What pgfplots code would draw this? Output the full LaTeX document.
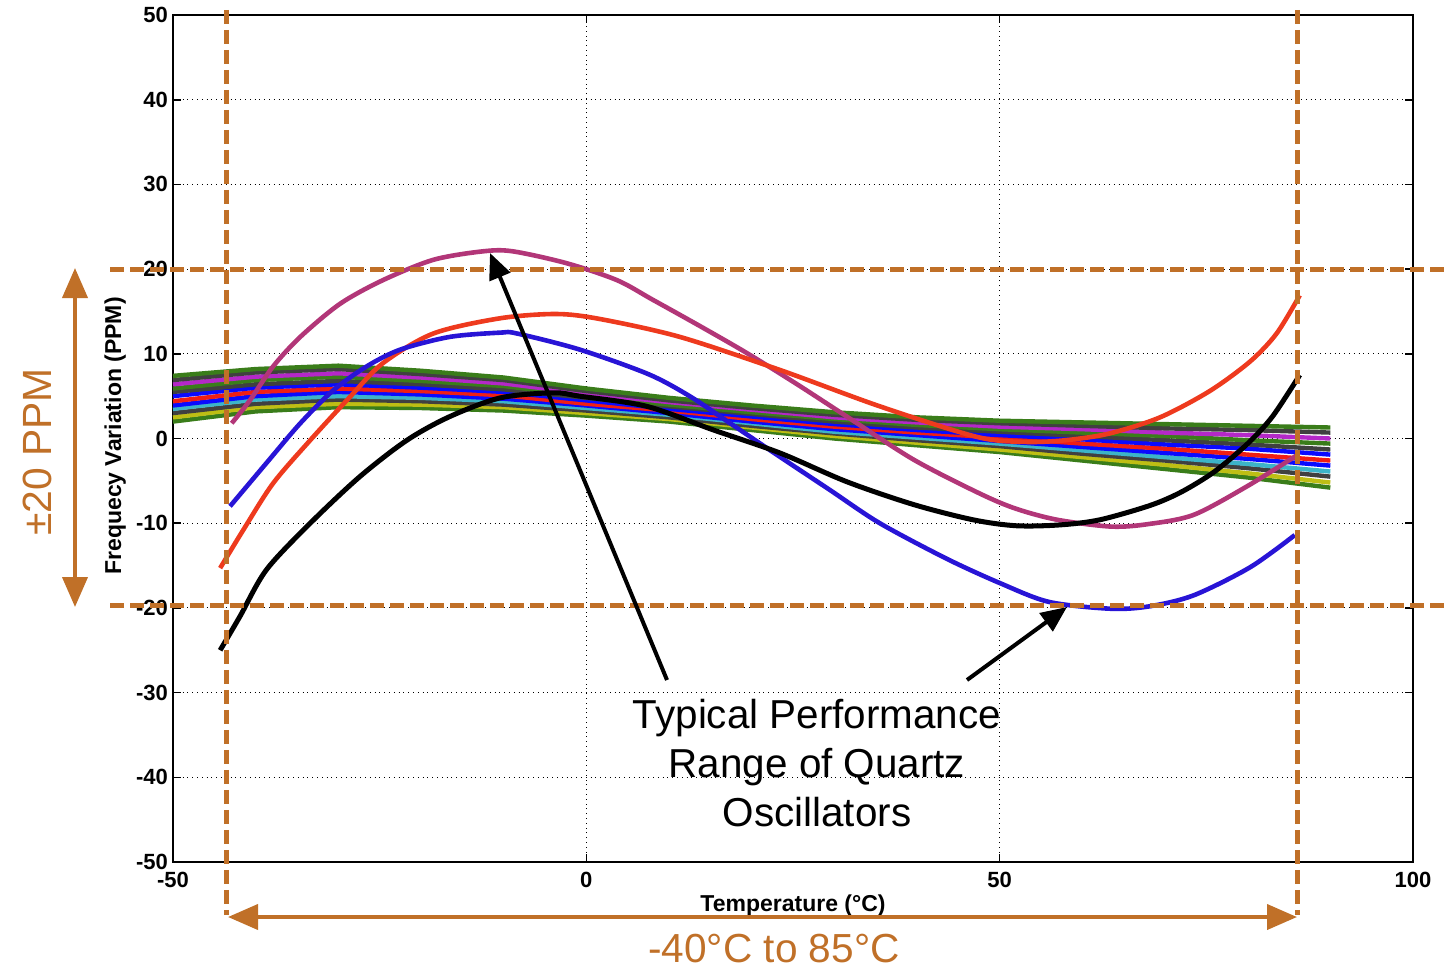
\documentclass[border=0pt]{standalone}
\usepackage{pgfplots}
\pgfplotsset{compat=1.18}
\usepackage{fontspec}
\setmainfont{Liberation Sans}
\usetikzlibrary{arrows.meta}
\definecolor{qorange}{RGB}{192,112,40}
\definecolor{qmag}{RGB}{178,54,120}
\definecolor{qred}{RGB}{238,58,30}
\definecolor{qblue}{RGB}{40,20,214}
\definecolor{bgreen}{RGB}{58,125,26}
\definecolor{bgray}{RGB}{64,64,64}
\definecolor{bblue}{RGB}{10,10,255}
\definecolor{bred}{RGB}{240,30,20}
\definecolor{byel}{RGB}{190,190,20}
\definecolor{bmag}{RGB}{180,40,200}
\definecolor{bcyan}{RGB}{60,180,200}
\pgfplotstableread{
T L0 L1 L2 L3 L4 L5 L6 L7 L8 L9 L10 L11
-50 2.0 2.5 3.0 3.5 3.9 4.4 5.0 5.5 5.9 6.4 6.9 7.4
-40 3.2 3.7 4.1 4.6 5.0 5.5 6.0 6.4 6.9 7.3 7.8 8.2
-30 3.7 4.1 4.6 5.0 5.5 5.9 6.4 6.8 7.3 7.7 8.2 8.6
-20 3.6 4.0 4.4 4.8 5.2 5.6 6.0 6.4 6.8 7.2 7.6 8.0
-10 3.3 3.7 4.0 4.4 4.7 5.1 5.5 5.8 6.2 6.5 6.9 7.2
0 2.7 3.0 3.3 3.6 3.9 4.1 4.5 4.8 5.0 5.3 5.6 5.9
10 2.0 2.3 2.5 2.8 3.0 3.3 3.5 3.8 4.0 4.3 4.5 4.8
20 1.0 1.3 1.5 1.8 2.0 2.3 2.6 2.9 3.1 3.4 3.6 3.9
30 0.0 0.3 0.6 0.8 1.1 1.4 1.7 2.0 2.3 2.5 2.8 3.1
40 -0.8 -0.5 -0.2 0.1 0.4 0.7 1.0 1.3 1.6 1.9 2.2 2.5
50 -1.6 -1.3 -0.9 -0.6 -0.3 0.1 0.4 0.8 1.1 1.4 1.8 2.1
60 -2.6 -2.2 -1.8 -1.4 -1.0 -0.6 -0.1 0.3 0.7 1.1 1.5 1.9
70 -3.6 -3.1 -2.6 -2.2 -1.7 -1.2 -0.7 -0.2 0.3 0.7 1.2 1.7
80 -4.6 -4.1 -3.5 -3.0 -2.4 -1.9 -1.2 -0.7 -0.2 0.4 1.0 1.5
90 -5.8 -5.2 -4.5 -3.9 -3.2 -2.6 -1.9 -1.3 -0.6 0.0 0.7 1.3
}\band
\begin{document}
\begin{tikzpicture}
\path[use as bounding box] (0,0) rectangle (722.5pt,-484.5pt);
\begin{axis}[
  at={(86.5pt,-431pt)}, anchor=south west,
  scale only axis, width=620pt, height=423.5pt,
  xmin=-50, xmax=100, ymin=-50, ymax=50,
  xtick={-50,0,50,100}, ytick={-50,-40,...,50},
  tick align=inside, major tick length=4pt,
  grid=major, major grid style={black, dotted, line width=0.5pt},
  axis line style={black, line width=0.8pt},
  tick style={black, line width=0.8pt},
  /pgf/number format/assume math mode=true,
  ticklabel style={font=\fontsize{11}{13}\selectfont\bfseries},
  xticklabel style={yshift=-1.5pt},
  yticklabel style={xshift=1pt},
  xlabel={Temperature (°C)},
  label style={font=\fontsize{11.5}{13}\selectfont\bfseries},
  xlabel style={at={(0.5,0)}, anchor=center, yshift=-22pt},
  clip=false,
  every axis plot/.append style={line width=2.2pt},
]
\addplot[bgreen] table[x=T,y=L0]{\band};
\addplot[byel] table[x=T,y=L1]{\band};
\addplot[bgray] table[x=T,y=L2]{\band};
\addplot[bcyan] table[x=T,y=L3]{\band};
\addplot[bblue] table[x=T,y=L4]{\band};
\addplot[bred] table[x=T,y=L5]{\band};
\addplot[bblue] table[x=T,y=L6]{\band};
\addplot[bgray] table[x=T,y=L7]{\band};
\addplot[bgreen] table[x=T,y=L8]{\band};
\addplot[bmag] table[x=T,y=L9]{\band};
\addplot[bgray] table[x=T,y=L10]{\band};
\addplot[bgreen] table[x=T,y=L11]{\band};
% highlighted curves
\addplot[qmag, smooth, line width=2.3pt] coordinates {(-42.9,1.8) (-40.7,4.5) (-37.9,8.5) (-34.6,12.0) (-29.8,15.9) (-24.6,18.7) (-18.5,21.1) (-12.5,22.1) (-8.9,22.1) (-2.4,20.7) (3.7,18.7) (8,16.4) (13.7,13.3) (19.4,10.1) (25.5,6.4) (31.5,2.6) (39.6,-2.5) (47.6,-6.5) (52,-8.3) (57,-9.6) (63.5,-10.4) (68,-10.1) (73.5,-9.0) (80,-5.6) (86,-1.95)};
\addplot[qred, smooth, line width=2.3pt] coordinates {(-44.3,-15.3) (-41.5,-10.8) (-37.9,-5.3) (-33.4,-0.2) (-28.6,4.9) (-24.6,8.9) (-18.5,12.4) (-10.4,14.2) (-3.6,14.7) (1.7,14.1) (11.3,12.0) (23.4,8.1) (35.5,3.8) (47.2,0.2) (53,-0.4) (58,-0.2) (63.3,0.6) (69.4,2.5) (75.4,5.6) (80.3,9.1) (83.5,12.4) (86.3,16.9)};
\addplot[qblue, smooth, line width=2.3pt] coordinates {(-43.1,-8.0) (-38.7,-2.9) (-34.6,1.8) (-30.6,5.7) (-26.6,8.5) (-22.5,10.5) (-16.5,12.0) (-10.4,12.5) (-8.4,12.4) (-0.8,10.5) (7.5,7.6) (12.5,5.0) (17.4,1.8) (23.4,-2.15) (29.5,-6.1) (35.5,-10) (43.6,-14.2) (50.1,-17.1) (56,-19.3) (63.5,-20.1) (68.2,-19.8) (73.5,-18.5) (80.3,-15.2) (85.7,-11.4)};
\addplot[black, smooth, line width=2.5pt] coordinates {(-44.3,-25) (-41.9,-21) (-38.7,-15.5) (-33.4,-10) (-27.4,-4.5) (-21.7,-0.2) (-16.5,2.6) (-10.4,4.8) (-4,5.4) (-0.8,5.0) (7.3,3.8) (15.4,1.0) (23.4,-1.7) (31.5,-5.1) (39.6,-7.8) (46.8,-9.6) (52,-10.3) (57.3,-10.2) (62.1,-9.6) (68.2,-7.9) (72,-6.3) (76,-3.9) (80,-0.6) (83,2.6) (86.3,7.5)};
% orange reference lines
\draw[qorange, line width=2.5pt, dash pattern=on 7pt off 3pt] (axis cs:-57.6,20) -- (axis cs:103.8,20);
\draw[qorange, line width=2.5pt, dash pattern=on 7pt off 3pt] (axis cs:-57.6,-19.7) -- (axis cs:103.8,-19.7);
\draw[qorange, line width=2.5pt, dash pattern=on 7pt off 3pt] (axis cs:-43.5,50.6) -- (axis cs:-43.5,-56.3);
\draw[qorange, line width=2.5pt, dash pattern=on 7pt off 3pt] (axis cs:86,50.6) -- (axis cs:86,-56.3);
% y axis label
\node[rotate=90, font=\fontsize{11.5}{13}\selectfont\bfseries, inner sep=1pt] at (axis cs:-57,0.3) {Frequecy Variation (PPM)};
\end{axis}
\begin{scope}[x=0.5pt,y=-0.5pt]
\draw[qorange, line width=2pt, {Triangle[length=15pt,width=12.5pt]}-{Triangle[length=15pt,width=12.5pt]}] (75,268) -- (75,607);
\draw[qorange, line width=2pt, {Triangle[length=15pt,width=12.5pt]}-{Triangle[length=15pt,width=12.5pt]}] (228,917) -- (1297,917);
\node[qorange, rotate=90, font=\fontsize{20.4}{24}\selectfont] at (37,452) {±20 PPM};
\node[qorange, inner sep=0pt, font=\fontsize{20.3}{24}\selectfont] at (774,949) {-40°C to 85°C};
\draw[black, line width=2pt, -{Triangle[length=13pt,width=11pt]}] (667,680) -- (490,253);
\draw[black, line width=2pt, -{Triangle[length=13pt,width=11pt]}] (967,680) -- (1067,607);
\node[black, align=center, font=\fontsize{20.2}{24.5}\selectfont] at (817,763) {Typical Performance\\Range of Quartz\\Oscillators};
\end{scope}
\end{tikzpicture}
\end{document}
